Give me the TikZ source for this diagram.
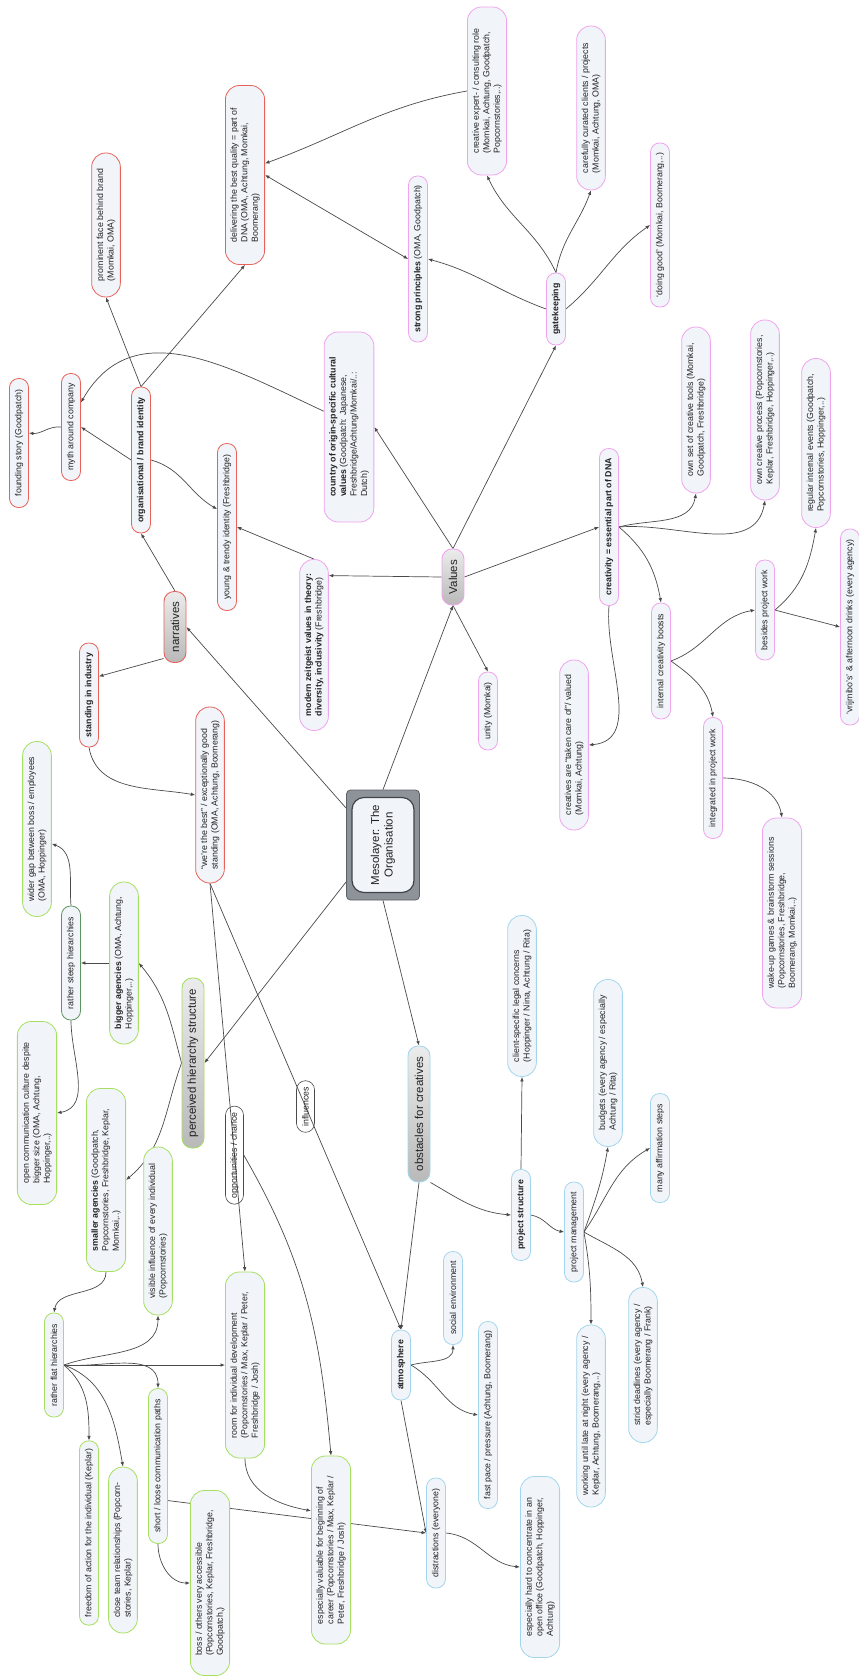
\documentclass[tikz,border=0pt]{standalone}
\usepackage{fontspec}
\setmainfont{Liberation Sans}
\usepackage{tikz}
\usetikzlibrary{arrows.meta,backgrounds}
\definecolor{Ink}{HTML}{222222}
\definecolor{Wire}{HTML}{4A4A4A}
\definecolor{Paper}{HTML}{F1F5FA}
\definecolor{RedLine}{HTML}{E8625A}
\definecolor{PinkLine}{HTML}{F0A4EE}
\definecolor{GreenLine}{HTML}{A6DF62}
\definecolor{DarkGreen}{HTML}{5E9460}
\definecolor{BlueLine}{HTML}{A3D6EC}
\definecolor{HubGray}{HTML}{8D9399}
\definecolor{HubEdge}{HTML}{5B6167}
\tikzset{
  leaf/.style={
    rotate=90, rounded corners=9pt, line width=.8pt, fill=Paper,
    align=left, minimum height=19pt, inner xsep=8pt, inner ysep=5pt,
    text=Ink, font=\fontsize{8.8}{10.5}\selectfont
  },
  roundBig/.style={rounded corners=14pt},
  redBox/.style={leaf,draw=RedLine},
  pinkBox/.style={leaf,draw=PinkLine},
  greenBox/.style={leaf,draw=GreenLine},
  blueBox/.style={leaf,draw=BlueLine},
  topic/.style={
    rotate=90, rounded corners=10pt, line width=.9pt,
    top color=gray!15, bottom color=gray!55, minimum height=22pt,
    inner xsep=8pt, text=Ink, font=\fontsize{11.5}{13}\selectfont
  },
  edgeTag/.style={
    rotate=90, draw=Wire, rounded corners=9pt, line width=.6pt,
    minimum height=18pt, inner xsep=6pt, text=Ink,
    font=\fontsize{8.8}{10.5}\selectfont
  },
  arr/.style={->,>={Latex[length=4.5pt,width=3.6pt]},line width=.7pt,draw=Wire}
}

\begin{document}
\begin{tikzpicture}[x=1pt,y=-1pt]
  \path[use as bounding box] (0,0) rectangle (859,1676);

  \node[rotate=90,fill=HubGray,draw=HubEdge,line width=.8pt,rounded corners=4pt,minimum width=110pt,minimum height=73pt] (meso) at (383,845) {};
  \node[rotate=90,fill=Paper,draw=HubEdge!70!black,line width=1.2pt,rounded corners=12pt,minimum width=95pt,minimum height=62pt,align=center,text=Ink,font=\fontsize{11.5}{13.5}\selectfont] (mesoText) at (383,845) {Mesolayer: The\\Organisation};

  \node[topic,draw=RedLine,minimum width=71pt] (narratives) at (175,627) {narratives};
  \node[topic,draw=PinkLine,minimum width=56pt] (values) at (453,577) {Values};
  \node[topic,draw=GreenLine,minimum width=170pt] (perceived) at (193,1063) {perceived hierarchy structure};
  \node[topic,draw=BlueLine,minimum width=136pt] (obstacles) at (419,1114) {obstacles for creatives};

  \node[redBox,roundBig,minimum width=144pt] (face) at (106,225) {prominent face behind brand\\(Momkai, OMA)};
  \node[redBox,roundBig,minimum width=179pt] (deliver) at (245,175) {delivering the best quality = part of\\DNA (OMA, Achtung, Momkai,\\Boomerang)};
  \node[redBox,minimum width=129pt] (founding) at (19,443) {founding story (Goodpatch)};
  \node[redBox,minimum width=107pt] (myth) at (71,427) {myth around company};
  \node[redBox,minimum width=146pt,font=\fontsize{8.8}{10.5}\selectfont\bfseries] (brand) at (141,460) {organisational / brand identity};
  \node[redBox,minimum width=167pt] (young) at (227,527) {young \& trendy identity (Freshbridge)};
  \node[redBox,minimum width=104pt,font=\fontsize{8.8}{10.5}\selectfont\bfseries] (standing) at (89,695) {standing in industry};
  \node[redBox,roundBig,minimum width=176pt] (best) at (210,795) {``we're the best'' / exceptionally good\\standing (OMA, Achtung, Boomerang)};

  \node[pinkBox,minimum width=166pt] (strong) at (418,259) {\textbf{strong principles} (OMA, Goodpatch)};
  \node[pinkBox,roundBig,minimum width=168pt] (expert) at (487,91) {creative expert- / consulting role\\(Momkai, Achtung, Goodpatch,\\Popcornstories,..)};
  \node[pinkBox,roundBig,minimum width=164pt] (curated) at (591,108) {carefully curated clients / projects\\(Momkai, Achtung, OMA)};
  \node[pinkBox,minimum width=164pt] (doingGood) at (660,225) {`doing good' (Momkai, Boomerang,..)};
  \node[pinkBox,minimum width=72pt,font=\fontsize{8.8}{10.5}\selectfont\bfseries] (gate) at (556,309) {gatekeeping};
  \node[pinkBox,roundBig,minimum width=190pt] (country) at (349,427) {\textbf{country of origin-specific cultural}\\\textbf{values} (Goodpatch: Japanese,\\Freshbridge/Achtung/Momkai/..:\\Dutch)};
  \node[pinkBox,roundBig,minimum width=171pt] (modern) at (314,645) {\textbf{modern zeitgeist values in theory:}\\\textbf{diversity, inclusivity} (Freshbridge)};
  \node[pinkBox,minimum width=157pt,font=\fontsize{8.8}{10.5}\selectfont\bfseries] (creativity) at (609,527) {creativity = essential part of DNA};
  \node[pinkBox,roundBig,minimum width=166pt] (tools) at (696,410) {own set of creative tools (Momkai,\\Goodpatch, Freshbridge)};
  \node[pinkBox,roundBig,minimum width=180pt] (process) at (765,410) {own creative process (Popcornstories,\\Keplar, Freshbridge, Hoppinger,..)};
  \node[pinkBox,roundBig,minimum width=169pt] (events) at (816,443) {regular internal events (Goodpatch,\\Popcornstories, Hoppinger,..)};
  \node[pinkBox,minimum width=196pt] (vrijmibo) at (850,627) {`vrijmibo's' \& afternoon drinks (every agency)};
  \node[pinkBox,minimum width=78pt] (unity) at (488,711) {unity (Momkai)};
  \node[pinkBox,roundBig,minimum width=170pt] (takenCare) at (574,745) {creatives are ``taken care of''/ valued\\(Momkai, Achtung)};
  \node[pinkBox,minimum width=116pt] (boosts) at (661,661) {internal creativity boosts};
  \node[pinkBox,minimum width=100pt] (besides) at (765,610) {besides project work};
  \node[pinkBox,minimum width=121pt] (integrated) at (713,778) {integrated in project work};
  \node[pinkBox,roundBig,minimum width=190pt] (wakeup) at (782,913) {wake-up games \& brainstorm sessions\\(Popcornstories, Freshbridge,\\Boomerang, Momkai,..)};

  \node[greenBox,roundBig,minimum width=175pt] (wider) at (37,829) {wider gap between boss / employees\\(OMA, Hoppinger)};
  \node[leaf,draw=DarkGreen,minimum width=114pt] (steep) at (71,963) {rather steep hierarchies};
  \node[greenBox,roundBig,minimum width=162pt] (bigger) at (124,963) {\textbf{bigger agencies} (OMA, Achtung,\\Hoppinger,..)};
  \node[greenBox,roundBig,minimum width=183pt] (openComm) at (37,1113) {open communication culture despite\\bigger size (OMA, Achtung,\\Hoppinger,..)};
  \node[greenBox,roundBig,minimum width=183pt] (smaller) at (106,1180) {\textbf{smaller agencies} (Goodpatch,\\Popcornstories, Freshbridge, Keplar,\\Momkai,..)};
  \node[greenBox,roundBig,minimum width=168pt] (visible) at (158,1231) {visible influence of every individual\\(Popcornstories)};
  \node[greenBox,minimum width=104pt] (flat) at (54,1365) {rather flat hierarchies};
  \node[greenBox,roundBig,minimum width=186pt] (room) at (245,1365) {room for individual development\\(Popcornstories / Max, Keplar / Peter,\\Freshbridge / Josh)};
  \node[greenBox,minimum width=155pt] (short) at (158,1466) {short / loose communication paths};
  \node[greenBox,minimum width=180pt] (freedom) at (89,1533) {freedom of action for the individual (Keplar)};
  \node[greenBox,roundBig,minimum width=166pt] (closeTeam) at (123,1550) {close team relationships (Popcorn-\\stories, Keplar)};
  \node[greenBox,roundBig,minimum width=185pt] (boss) at (210,1583) {boss / others very accessible\\(Popcornstories, Keplar, Freshbridge,\\Goodpatch,)};
  \node[greenBox,roundBig,minimum width=188pt] (valuable) at (331,1550) {especially valuable for beginning of\\career (Popcornstories / Max, Keplar /\\Peter, Freshbridge / Josh)};

  \node[blueBox,minimum width=70pt,font=\fontsize{8.8}{10.5}\selectfont\bfseries] (atmos) at (401,1365) {atmosphere};
  \node[blueBox,minimum width=91pt,font=\fontsize{8.8}{10.5}\selectfont\bfseries] (projStruct) at (521,1215) {project structure};
  \node[blueBox,roundBig,minimum width=161pt] (legal) at (522,996) {client-specific legal concerns\\(Hoppinger / Nina, Achtung / Rita)};
  \node[blueBox,roundBig,minimum width=167pt] (budgets) at (608,1063) {budgets (every agency / especially\\Achtung / Rita)};
  \node[blueBox,minimum width=109pt] (affirm) at (660,1148) {many affirmation steps};
  \node[blueBox,minimum width=100pt] (pm) at (574,1232) {project management};
  \node[blueBox,minimum width=93pt] (social) at (453,1298) {social environment};
  \node[blueBox,minimum width=187pt] (fastPace) at (488,1415) {fast pace / pressure (Achtung, Boomerang)};
  \node[blueBox,roundBig,minimum width=182pt] (late) at (591,1416) {working until late at night (every agency /\\Keplar, Achtung, Boomerang,..)};
  \node[blueBox,roundBig,minimum width=155pt] (deadlines) at (643,1365) {strict deadlines (every agency /\\especially Boomerang / Frank)};
  \node[blueBox,minimum width=110pt] (distract) at (436,1533) {distractions (everyone)};
  \node[blueBox,roundBig,minimum width=181pt] (hardFocus) at (540,1567) {especially hard to concentrate in an\\open office (Goodpatch, Hoppinger,\\Achtung)};

  \begin{pgfonlayer}{background}
    \fill[white] (0,0) rectangle (859,1676);
    \draw[arr] (meso.east) -- (values.west);
    \draw[arr] (meso.45) -- (narratives.south);
    \draw[arr] (meso.135) -- (perceived.south);
    \draw[arr] (meso.west) -- (obstacles.east);

    \draw[arr] (values.east) -- (gate.west);
    \draw[arr] (values.north) -- (modern.-12);
    \draw[arr] (values.east) -- (country.south);
    \draw[arr] (values.south) -- (creativity.north);
    \draw[arr] (values.west) -- (unity.east);
    \draw[arr] (gate.east) to[out=115,in=-65] (expert.west);
    \draw[arr] (gate.east) to[out=80,in=-110] (curated.west);
    \draw[arr] (gate.south) to[out=40,in=-145] (doingGood.north);
    \draw[arr] (gate.north) to[out=160,in=-15] (strong.south);
    \draw[arr] (expert.north) to[out=190,in=20] (deliver.-60);
    \draw[arr,<->] (strong.north) -- (deliver.south);
    \draw[arr] (country.58) to[out=155,in=60,looseness=1.1] (myth.-22);
    \draw[arr] (modern.east) -- (young.south);

    \draw[arr] (narratives.east) -- (brand.west);
    \draw[arr] (narratives.160) -- (standing.-28);
    \draw[arr] (brand.north) -- (myth.south);
    \draw[arr] (brand.east) -- (face.west);
    \draw[arr] (brand.east) -- (deliver.west);
    \draw[arr] (brand.south) to[out=-15,in=150] (young.29);
    \draw[arr] (myth.north) to[out=175,in=-5] (founding.-45);
    \draw[arr] (standing.west) to[out=-80,in=170] (best.north);
    \draw[arr] (best.west) -- node[edgeTag,pos=.70] (opp) {opportunities / chance} (room.east);
    \draw[arr] (best.west) -- node[edgeTag,pos=.50] (infl) {influences} (atmos.east);
    \draw[arr] (opp.south) to[out=-60,in=95] (valuable.east);

    \draw[arr] (perceived.north) to[out=105,in=-50] (bigger.south);
    \draw[arr] (perceived.north) to[out=-110,in=40] (smaller.south);
    \draw[arr] (bigger.north) -- (steep.south);
    \draw[arr] (steep.east) to[out=95,in=-20] (wider.-135);
    \draw[arr] (steep.west) to[out=-90,in=10] (openComm.south);
    \draw[arr] (smaller.west) to[out=-90,in=80] (flat.east);
    \draw[arr] (flat.south) to[out=20,in=-90] (visible.west);
    \draw[arr] (flat.south) -- (room.north);
    \draw[arr] (flat.south) to[out=-5,in=90] (short.east);
    \draw[arr] (flat.south) to[out=-40,in=90] (freedom.east);
    \draw[arr] (flat.south) to[out=-20,in=100] (closeTeam.east);
    \draw[arr] (short.west) to[out=-90,in=180] (boss.north);
    \draw[arr] (short.-164) -- (distract.north);
    \draw[arr] (room.west) to[out=-90,in=170] (valuable.27);

    \draw[arr] (obstacles.west) -- (atmos.east);
    \draw[arr] (obstacles.south west) to[out=-30,in=175] (projStruct.north);
    \draw[arr] (atmos.south) to[out=15,in=-90] (social.west);
    \draw[arr] (atmos.south) to[out=-30,in=170] (fastPace.north);
    \draw[arr] (atmos.west) -- (distract.north);
    \draw[arr] (distract.south) to[out=-5,in=175] (hardFocus.north);
    \draw[arr] (projStruct.east) -- (legal.west);
    \draw[arr] (projStruct.south) to[out=-10,in=170] (pm.north);
    \draw[arr] (pm.south) to[out=70,in=-100] (budgets.west);
    \draw[arr] (pm.south) to[out=55,in=-150] (affirm.north);
    \draw[arr] (pm.south) to[out=-80,in=90] (late.east);
    \draw[arr] (pm.south) to[out=-30,in=100] (deadlines.east);

    \draw[arr] (creativity.south) to[out=15,in=-100] (tools.west);
    \draw[arr] (creativity.south) to[out=5,in=-100] (process.west);
    \draw[arr] (creativity.south) to[out=-40,in=100] (boosts.east);
    \draw[arr] (creativity.west) to[out=-95,in=5] (takenCare.south);
    \draw[arr] (boosts.south) to[out=20,in=190] (besides.north);
    \draw[arr] (boosts.south) to[out=-35,in=100] (integrated.east);
    \draw[arr] (besides.south) to[out=40,in=-100] (events.west);
    \draw[arr] (besides.south) to[out=-15,in=165] (vrijmibo.north);
    \draw[arr] (integrated.south) to[out=0,in=100] (wakeup.east);
  \end{pgfonlayer}
\end{tikzpicture}
\end{document}
